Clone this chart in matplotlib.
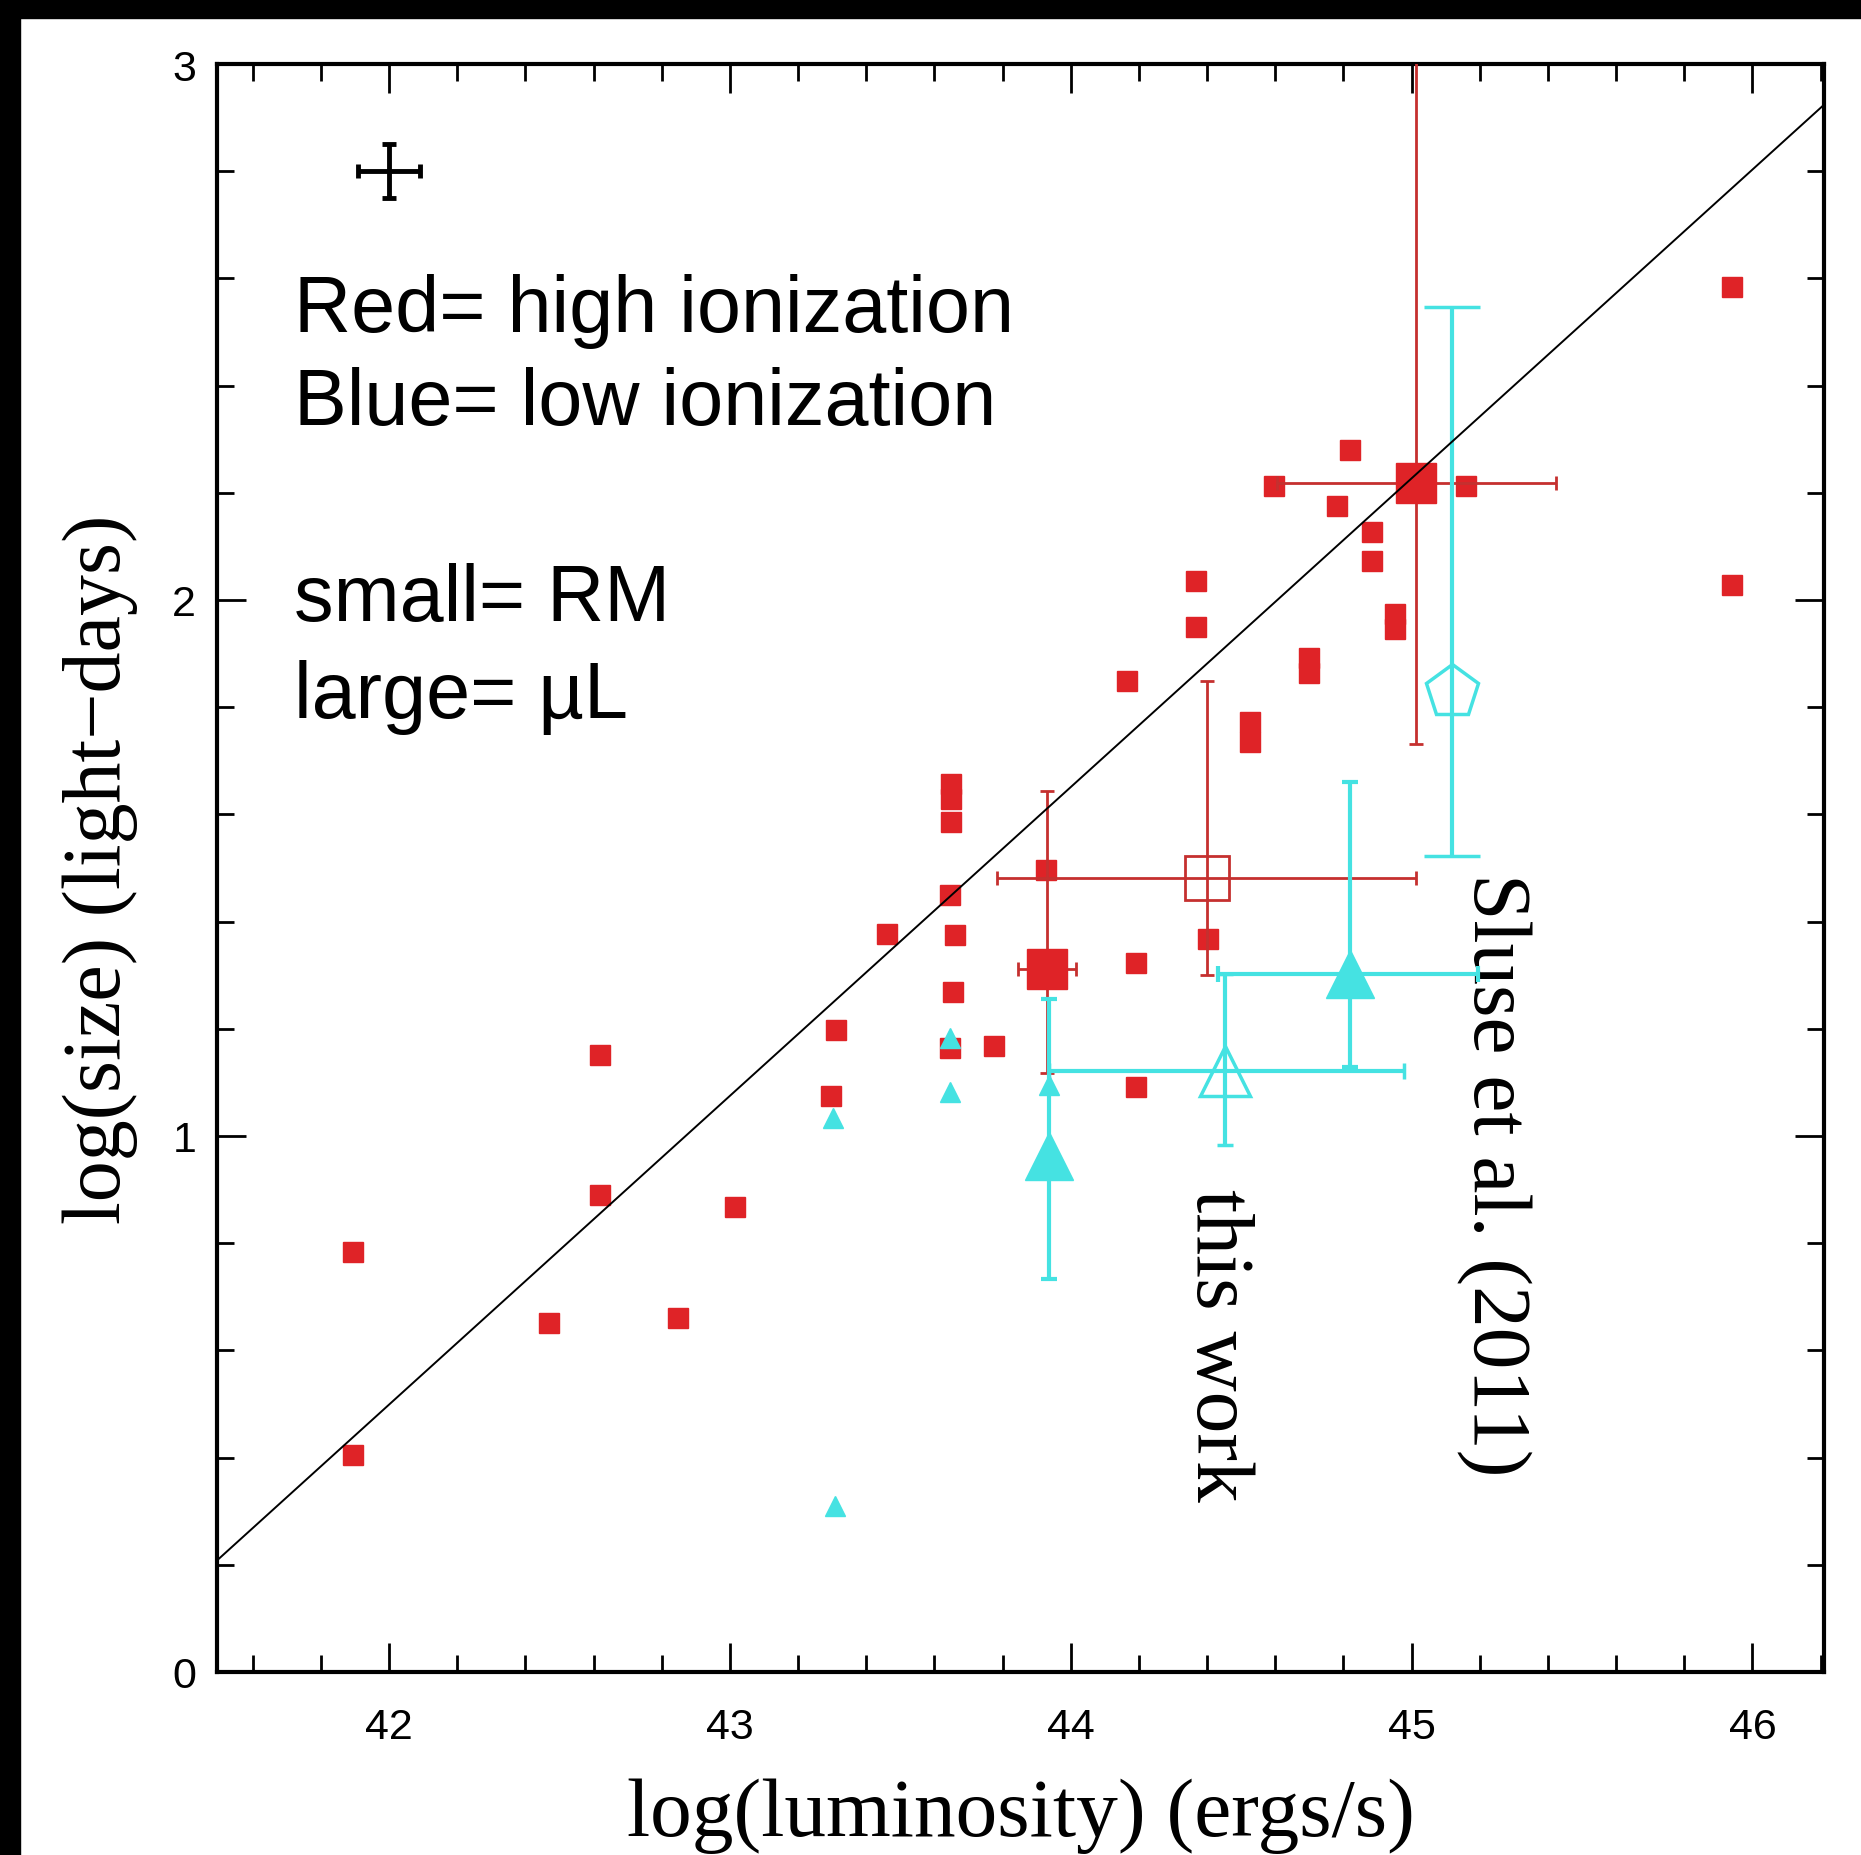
import matplotlib.pyplot as plt
from matplotlib.patches import Rectangle
from matplotlib.ticker import MultipleLocator

# small red squares: RM sizes, high ionization lines
rm_high_lum = [41.895, 41.895, 42.470, 42.620, 42.620, 42.847, 43.014, 43.310, 43.296, 43.460,
               43.648, 43.648, 43.648, 43.645, 43.659, 43.655, 43.645, 43.774, 43.927,
               44.192, 44.192, 44.164, 44.366, 44.366, 44.404, 44.526, 44.526, 44.700, 44.700,
               44.596, 44.819, 44.780, 44.885, 44.885, 44.951, 44.951, 45.160, 45.941, 45.941]
rm_high_size = [0.784, 0.405, 0.651, 1.151, 0.890, 0.660, 0.868, 1.198, 1.074, 1.377,
                1.656, 1.629, 1.585, 1.450, 1.375, 1.269, 1.164, 1.167, 1.497,
                1.322, 1.091, 1.849, 2.035, 1.950, 1.368, 1.773, 1.736, 1.891, 1.864,
                2.212, 2.280, 2.176, 2.127, 2.072, 1.973, 1.946, 2.212, 2.584, 2.028]

# small cyan triangles: RM sizes, low ionization lines
rm_low_lum = [43.303, 43.307, 43.645, 43.645, 43.937]
rm_low_size = [1.034, 0.310, 1.182, 1.083, 1.096]

# large filled red squares: microlensing, high ionization
ml_high_lum = [43.930, 45.014]
ml_high_size = [1.311, 2.218]
ml_high_xerr = [[0.085, 0.41], [0.085, 0.41]]
ml_high_yerr = [[0.193, 0.487], [0.332, 0.90]]

# open red square: this work, high ionization
tw_high_lum = [44.401]
tw_high_size = [1.481]
tw_high_xerr = [[0.617], [0.613]]
tw_high_yerr = [[0.181], [0.368]]

# large filled cyan triangles: microlensing, low ionization
ml_low_lum = [43.937, 44.819]
ml_low_size = [0.963, 1.302]
ml_low_xerr = [[0.0, 0.387], [0.0, 0.376]]
ml_low_yerr = [[0.230, 0.173], [0.292, 0.358]]

# open cyan triangle: this work, low ionization
tw_low_lum = [44.453]
tw_low_size = [1.122]
tw_low_xerr = [[0.516], [0.526]]
tw_low_yerr = [[0.139], [0.180]]

# open cyan pentagon: Sluse et al. (2011)
sluse_lum = [45.120]
sluse_size = [1.829]
sluse_yerr = [[0.306], [0.717]]

# typical error bar
typ_lum, typ_size, typ_xerr, typ_yerr = [42.0], [2.80], [0.09], [0.05]

# fitted relation
fit_x = [41.495, 46.21]
fit_slope = 0.576
fit_at_42 = 0.499

red = '#df2327'
red_bar = '#c5302f'
cyan = '#45e2e2'

sans = 'Liberation Sans'
serif = 'Liberation Serif'

fig = plt.figure(figsize=(18.61, 18.56), dpi=100)
ax = fig.add_axes([217 / 1861, 183 / 1856, (1824 - 217) / 1861, (1791 - 183) / 1856])

# black frame on left and top of the picture
fig.patches.append(Rectangle((0, 0), 20 / 1861, 1, transform=fig.transFigure, color='black'))
fig.patches.append(Rectangle((0, 1 - 19 / 1856), 1, 19 / 1856, transform=fig.transFigure, color='black'))

ax.plot(rm_high_lum, rm_high_size, 's', color=red, ms=14, mec=red, zorder=3)
ax.plot(rm_low_lum, rm_low_size, '^', color=cyan, ms=14, mec=cyan, zorder=3)

ax.errorbar(ml_high_lum, ml_high_size, xerr=ml_high_xerr, yerr=ml_high_yerr, fmt='s',
            color=red, ms=29, ecolor=red_bar, elinewidth=2, capsize=5, capthick=2, zorder=4)
ax.errorbar(tw_high_lum, tw_high_size, xerr=tw_high_xerr, yerr=tw_high_yerr, fmt='s',
            mfc='none', mec=red_bar, mew=2, ms=31, ecolor=red_bar, elinewidth=2,
            capsize=5, capthick=2, zorder=4)
ax.errorbar(ml_low_lum, ml_low_size, xerr=ml_low_xerr, yerr=ml_low_yerr, fmt='^',
            color=cyan, ms=34, ecolor=cyan, elinewidth=3, capsize=6, capthick=3, zorder=4)
ax.errorbar(tw_low_lum, tw_low_size, xerr=tw_low_xerr, yerr=tw_low_yerr, fmt='^',
            mfc='none', mec=cyan, mew=2.5, ms=36, ecolor=cyan, elinewidth=3,
            capsize=6, capthick=3, zorder=4)
ax.errorbar(sluse_lum, sluse_size, yerr=sluse_yerr, fmt='p', mfc='none', mec=cyan, mew=2.5,
            ms=40, ecolor=cyan, elinewidth=3, capsize=20, capthick=3, zorder=4)
ax.errorbar(typ_lum, typ_size, xerr=typ_xerr, yerr=typ_yerr, fmt='none', ecolor='black',
            elinewidth=3.5, capsize=5, capthick=3.5, zorder=4)

fit_y = [fit_at_42 + fit_slope * (x - 42) for x in fit_x]
ax.plot(fit_x, fit_y, color='black', lw=1.4, zorder=5)

ax.text(41.720, 2.502, 'Red= high ionization', family=sans, fontsize=57, va='baseline')
ax.text(41.720, 2.329, 'Blue= low ionization', family=sans, fontsize=57, va='baseline')
ax.text(41.720, 1.962, 'small= RM', family=sans, fontsize=57, va='baseline')
ax.text(41.720, 1.782, 'large= \u00b5L', family=sans, fontsize=57, va='baseline')

ax.text(44.429, 0.611, 'this work', family=serif, fontsize=60, rotation=-90,
        ha='center', va='center')
ax.text(45.240, 0.930, 'Sluse et al. (2011)', family=serif, fontsize=60, rotation=-90,
        ha='center', va='center')

ax.set_xlim(41.495, 46.21)
ax.set_ylim(0, 3)
ax.xaxis.set_major_locator(MultipleLocator(1))
ax.xaxis.set_minor_locator(MultipleLocator(0.2))
ax.yaxis.set_major_locator(MultipleLocator(1))
ax.yaxis.set_minor_locator(MultipleLocator(0.2))
ax.tick_params(which='both', direction='in', top=True, right=True, width=2)
ax.tick_params(which='major', length=21)
ax.tick_params(which='minor', length=12)
ax.tick_params(axis='x', pad=25, labelsize=31)
ax.tick_params(axis='y', pad=15, labelsize=31)
for lab in ax.get_xticklabels() + ax.get_yticklabels():
    lab.set_family(sans)
for sp in ax.spines.values():
    sp.set_linewidth(3)

ax.set_xlabel('log(luminosity) (ergs/s)', family=serif, fontsize=60, labelpad=22)
ax.set_ylabel('log(size) (light\u2212days)', family=serif, fontsize=59, labelpad=25)

fig.savefig('out.png', dpi=100)
